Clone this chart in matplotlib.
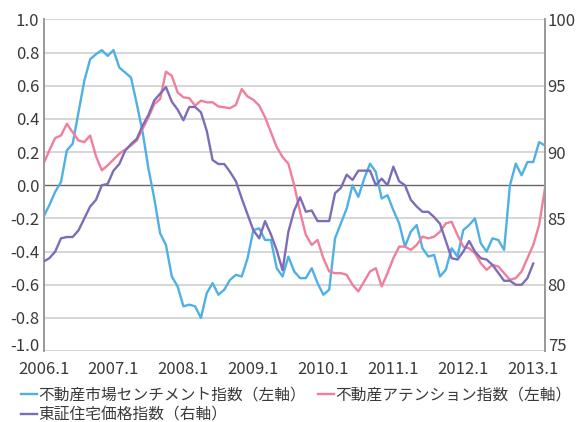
import numpy as np
import matplotlib
matplotlib.use("Agg")
import matplotlib.pyplot as plt
import matplotlib.transforms as mtransforms

plt.rcParams["font.family"] = ["Noto Sans CJK JP", "DejaVu Sans"]

# monthly, 2006.1 .. 2013.3
sentiment = [
    -0.19, -0.12, -0.04, 0.02, 0.21, 0.25, 0.44, 0.63, 0.76, 0.79, 0.815, 0.78,
    0.815, 0.71, 0.68, 0.65, 0.49, 0.32, 0.10, -0.08, -0.29, -0.36, -0.55, -0.61,
    -0.73, -0.72, -0.73, -0.80, -0.65, -0.59, -0.66, -0.63, -0.57, -0.54, -0.55, -0.44,
    -0.27, -0.26, -0.33, -0.33, -0.50, -0.55, -0.43, -0.52, -0.56, -0.56, -0.50, -0.59,
    -0.66, -0.63, -0.32, -0.23, -0.14, 0.00, -0.07, 0.04, 0.13, 0.08, -0.08, -0.06,
    -0.15, -0.23, -0.37, -0.28, -0.24, -0.38, -0.43, -0.42, -0.55, -0.51, -0.38, -0.43,
    -0.27, -0.24, -0.20, -0.35, -0.40, -0.32, -0.33, -0.39, 0.00, 0.13, 0.06, 0.14,
    0.14, 0.26, 0.24,
]
attention = [
    0.13, 0.21, 0.285, 0.30, 0.37, 0.32, 0.27, 0.26, 0.30, 0.175, 0.09, 0.12,
    0.155, 0.19, 0.215, 0.24, 0.27, 0.34, 0.41, 0.49, 0.52, 0.685, 0.66, 0.56,
    0.53, 0.525, 0.48, 0.51, 0.50, 0.50, 0.475, 0.47, 0.465, 0.485, 0.58, 0.535,
    0.515, 0.48, 0.41, 0.32, 0.23, 0.17, 0.13, 0.00, -0.16, -0.30, -0.36, -0.33,
    -0.44, -0.52, -0.53, -0.53, -0.54, -0.60, -0.64, -0.58, -0.52, -0.50, -0.61, -0.53,
    -0.44, -0.37, -0.37, -0.39, -0.36, -0.31, -0.32, -0.31, -0.28, -0.23, -0.22, -0.30,
    -0.37, -0.38, -0.41, -0.47, -0.51, -0.48, -0.49, -0.53, -0.57, -0.56, -0.52, -0.44,
    -0.36, -0.24, -0.02,
]
# 2006.1 .. 2013.1
tse_housing = [
    81.75, 82.0, 82.5, 83.5, 83.6, 83.6, 84.1, 85.0, 85.9, 86.4, 87.5, 87.6,
    88.6, 89.1, 90.1, 90.6, 91.0, 92.0, 92.8, 93.9, 94.4, 94.9, 93.8, 93.2,
    92.4, 93.4, 93.4, 93.0, 91.6, 89.4, 89.1, 89.1, 88.5, 87.8, 86.5, 85.3,
    84.1, 83.5, 84.8, 83.8, 82.6, 81.1, 84.0, 85.6, 86.6, 85.5, 85.6, 84.8,
    84.8, 84.8, 86.9, 87.3, 88.3, 87.9, 88.6, 88.6, 88.6, 87.5, 88.0, 87.5,
    88.9, 87.8, 87.5, 86.4, 85.9, 85.5, 85.5, 85.1, 84.6, 83.3, 82.0, 81.9,
    82.5, 83.3, 82.5, 82.0, 81.9, 81.5, 80.9, 80.3, 80.3, 80.0, 80.0, 80.5,
    81.6,
]
year_labels = ["2006.1", "2007.1", "2008.1", "2009.1", "2010.1", "2011.1", "2012.1", "2013.1"]
names = ["不動産市場センチメント指数（左軸）", "不動産アテンション指数（左軸）", "東証住宅価格指数（右軸）"]

c_blue = "#4fb1e3"
c_pink = "#f07f9c"
c_purple = "#7d6db8"
txt = "#3a3a3a"

fig = plt.figure(figsize=(5.81, 4.22), dpi=100)
ax = fig.add_axes([0.0749, 0.168, 0.863, 0.786])
ax2 = ax.twinx()

yt = np.round(np.arange(-1.0, 1.01, 0.2), 1)
ax.set_ylim(-1.0, 1.0)
ax.set_xlim(0, 86)
ax.set_yticks(yt)
ax.set_yticklabels([f"{v:.1f}".replace("-0.0", "0.0") for v in yt])
ax.set_xticks(np.arange(0, 85, 12))
ax.set_xticklabels(year_labels)
for y in yt:
    if y == 0:
        ax.axhline(y, color="#666666", lw=1.0, zorder=1)
    else:
        ax.axhline(y, color="#cfcfcf", lw=1.2, zorder=1)

ax2.set_ylim(75, 100)
ax2.set_yticks([75, 80, 85, 90, 95, 100])

for a in (ax, ax2):
    a.tick_params(length=0, labelsize=12, colors=txt)
    for s in ("top", "bottom"):
        a.spines[s].set_visible(False)
    for s in ("left", "right"):
        a.spines[s].set_color("#999999")
        a.spines[s].set_linewidth(1.2)
ax.tick_params(axis="y", pad=3)
ax.tick_params(axis="x", pad=7)
ax2.tick_params(axis="y", pad=2)

# bottom labels of both y axes sit a little higher, like the original
up = mtransforms.ScaledTranslation(0, 5 / 72, fig.dpi_scale_trans)
ax.get_yticklabels()[0].set_transform(ax.get_yticklabels()[0].get_transform() + up)
ax2.get_yticklabels()[0].set_transform(ax2.get_yticklabels()[0].get_transform() + up)

l1, = ax.plot(np.arange(len(sentiment)), sentiment, color=c_blue, lw=1.7, zorder=3)
l2, = ax.plot(np.arange(len(attention)), attention, color=c_pink, lw=1.7, zorder=3)
l3, = ax2.plot(np.arange(len(tse_housing)), tse_housing, color=c_purple, lw=1.7, zorder=3)

fig.legend([l1, l3, l2], [names[0], names[2], names[1]], ncol=2,
           loc="upper left", bbox_to_anchor=(0.036, 0.083), frameon=False,
           fontsize=11.3, handlelength=1.0, handletextpad=0.1, columnspacing=0.8,
           labelspacing=0.15, borderpad=0, borderaxespad=0, labelcolor=txt)

fig.savefig("out.png", dpi=100)
